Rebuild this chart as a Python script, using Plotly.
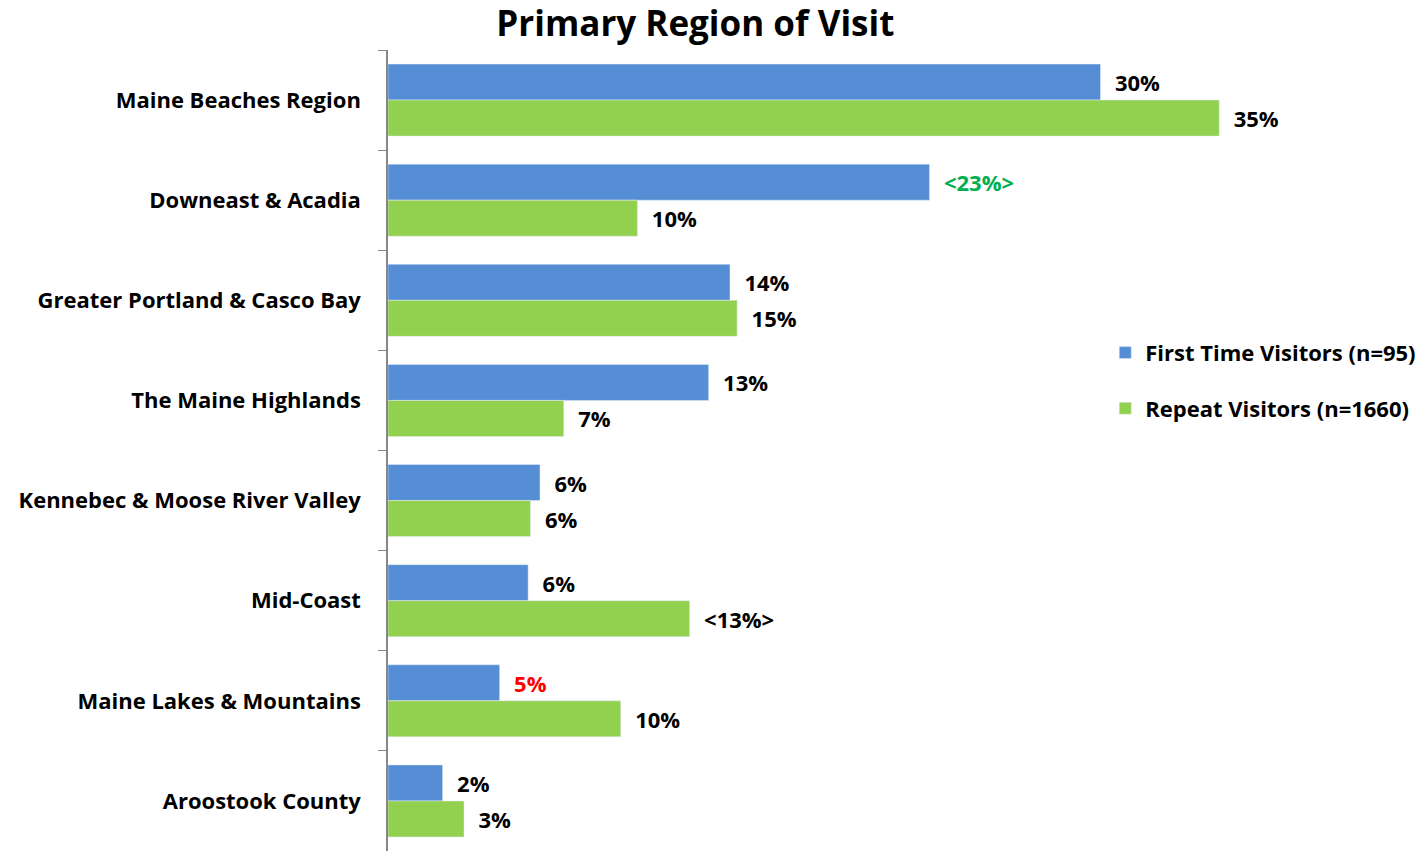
import plotly.graph_objects as go

categories = ["Maine Beaches Region", "Downeast & Acadia", "Greater Portland & Casco Bay",
              "The Maine Highlands", "Kennebec & Moose River Valley", "Mid-Coast",
              "Maine Lakes & Mountains", "Aroostook County"]
first_time = [30.0, 22.8, 14.4, 13.5, 6.4, 5.9, 4.7, 2.3]
repeat = [35.0, 10.5, 14.7, 7.4, 6.0, 12.7, 9.8, 3.2]
first_labels = ["30%", "&lt;23%&gt;", "14%", "13%", "6%", "6%", "5%", "2%"]
repeat_labels = ["35%", "10%", "15%", "7%", "6%", "&lt;13%&gt;", "10%", "3%"]
first_label_colors = ["#000000", "#00B050", "#000000", "#000000", "#000000", "#000000", "#FF0000", "#000000"]
repeat_label_colors = ["#000000"] * 8

FONT = "Open Sans, sans-serif"
pad = "&nbsp;&nbsp;"

fig = go.Figure()
fig.add_trace(go.Bar(
    y=categories, x=first_time, orientation="h", name="<b>First Time Visitors (n=95)</b>",
    marker=dict(color="#558ED5"), text=[pad + t for t in first_labels],
    textposition="outside", textfont=dict(color=first_label_colors, size=22, family=FONT),
    cliponaxis=False, legendgroup="a"))
fig.add_trace(go.Bar(
    y=categories, x=repeat, orientation="h", name="<b>Repeat Visitors (n=1660)</b>",
    marker=dict(color="#92D050"), text=[pad + t for t in repeat_labels],
    textposition="outside", textfont=dict(color=repeat_label_colors, size=22, family=FONT),
    cliponaxis=False, legendgroup="b"))

fig.update_layout(
    width=1422, height=851,
    margin=dict(l=388, r=84, t=50, b=0, autoexpand=False),
    paper_bgcolor="white", plot_bgcolor="white",
    barmode="group", bargap=0.28, bargroupgap=0,
    font=dict(family=FONT, size=22, color="#000000"),
    title=dict(text="<b>Primary Region of Visit</b>", x=0.489, xanchor="center",
               y=1 - 24 / 851, yanchor="middle", yref="container",
               font=dict(size=35, family=FONT, color="#000000")),
    xaxis=dict(range=[0, 40], showgrid=False, zeroline=False, showticklabels=False,
               showline=False, ticks="", automargin=False),
    yaxis=dict(autorange="reversed", showline=True, linecolor="#868686", linewidth=1.5,
               ticks="outside", ticklen=8, tickcolor="#868686", tickson="boundaries",
               ticklabelstandoff=21, showgrid=False, automargin=False,
               tickfont=dict(size=22, family=FONT, color="#000000"),
               tickvals=categories, ticktext=["<b>%s</b>" % c for c in categories]),
    legend=dict(x=0.755, y=0.587, xanchor="left", yanchor="middle",
                font=dict(size=22, family=FONT, color="#000000"),
                traceorder="grouped", tracegroupgap=24, itemwidth=30,
                bgcolor="rgba(0,0,0,0)"),
    showlegend=True,
)
fig.for_each_trace(lambda t: t.update(texttemplate="<b>%{text}</b>"))
fig.write_html("out.html", config={"displayModeBar": False},
               post_script="document.body.style.margin='0';")
